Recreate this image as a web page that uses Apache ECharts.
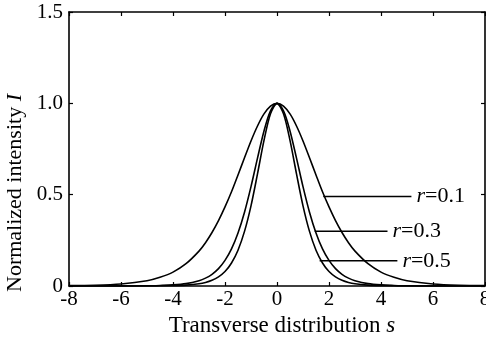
<!DOCTYPE html>
<html>
<head>
<meta charset="utf-8">
<script src="https://cdn.jsdelivr.net/npm/echarts@6/dist/echarts.min.js"></script>
<style>html,body{margin:0;padding:0;background:#fff}#c{width:486px;height:338px}</style>
</head>
<body>
<div id="c"></div>
<script>
// transverse coordinate s
const sValues = [-8,-7,-6,-5,-4.5,-4,-3.5,-3,-2.75,-2.5,-2.25,-2,-1.75,-1.5,-1.25,-1,-0.75,-0.5,-0.25,0,
                 0.25,0.5,0.75,1,1.25,1.5,1.75,2,2.25,2.5,2.75,3,3.5,4,4.5,5,6,7,8];
// normalized intensity
const intensityR01 = [0.002,0.004,0.011,0.029,0.048,0.076,0.122,0.191,0.237,0.293,0.358,0.433,0.516,0.608,0.702,0.794,0.876,0.942,0.985,1.0,
                      0.985,0.942,0.876,0.794,0.702,0.608,0.516,0.433,0.358,0.293,0.237,0.191,0.122,0.076,0.048,0.029,0.011,0.004,0.002];
const intensityR03 = [0,0,0,0.001,0.003,0.006,0.013,0.029,0.043,0.064,0.095,0.140,0.203,0.290,0.404,0.544,0.700,0.849,0.959,1.0,
                      0.959,0.849,0.700,0.544,0.404,0.290,0.203,0.140,0.095,0.064,0.043,0.029,0.013,0.006,0.003,0.001,0,0,0];
const intensityR05 = [0,0,0,0,0.001,0.002,0.005,0.012,0.019,0.031,0.050,0.079,0.126,0.196,0.299,0.439,0.614,0.797,0.943,1.0,
                      0.943,0.797,0.614,0.439,0.299,0.196,0.126,0.079,0.050,0.031,0.019,0.012,0.005,0.002,0.001,0,0,0,0];
// leader lines for the labels: [s, intensity] start and end
const labelNames = ['0.1','0.3','0.5'];
const leaderR01 = [[1.78,0.49],[5.17,0.49]];
const leaderR03 = [[1.45,0.30],[4.25,0.30]];
const leaderR05 = [[1.64,0.138],[4.63,0.138]];
const xTicks = [-8,-6,-4,-2,0,2,4,6,8];
const yTicks = ['0','0.5','1.0','1.5'];

const zip = (xs, ys) => xs.map((x, i) => [x, ys[i]]);
const FONT = 'Liberation Serif';
const curveStyle = {color:'#000', width:1.6};

function curve(name, ys) {
  return {name, type:'line', data: zip(sValues, ys), smooth:0.3, showSymbol:false,
    lineStyle: curveStyle, itemStyle:{color:'#000'}, silent:true, z:3};
}
function leader(pts, label) {
  return {type:'line', data: pts, showSymbol:false, symbol:'none', silent:true,
    lineStyle:{color:'#000', width:1.6},
    endLabel:{show:true, distance:5, fontFamily:FONT, fontSize:22, color:'#000',
      formatter:'{i|r}=' + label,
      rich:{i:{fontStyle:'italic', fontFamily:FONT, fontSize:22, color:'#000'}}}};
}

const chart = echarts.init(document.getElementById('c'), null, {renderer:'canvas'});
const axisLine = {show:true, onZero:false, lineStyle:{color:'#000', width:1.6}};
const tick = {show:true, inside:true, length:4, lineStyle:{color:'#000', width:1.2}};
chart.setOption({
  animation:false,
  backgroundColor:'#fff',
  grid:{left:69, right:1, top:12, bottom:52, containLabel:false, outerBoundsMode:'none'},
  xAxis:[{
    type:'value', min:-8, max:8, interval:2, position:'bottom',
    axisLine, axisTick:tick,
    splitLine:{show:false},
    axisLabel:{color:'#000', fontFamily:FONT, fontSize:21, margin:3,
      formatter:v => String(xTicks[xTicks.indexOf(v)])},
    name:'Transverse distribution {i|s}', nameLocation:'middle', nameGap:25,
    nameTextStyle:{color:'#000', fontFamily:FONT, fontSize:23, padding:[0,0,0,10],
      rich:{i:{fontStyle:'italic', fontFamily:FONT, fontSize:23, color:'#000'}}}
  },{
    type:'value', min:-8, max:8, interval:2, position:'top',
    axisLine, axisTick:tick,
    axisLabel:{show:false}, splitLine:{show:false}
  }],
  yAxis:[{
    type:'value', min:0, max:1.5, interval:0.5, position:'left',
    axisLine, axisTick:tick,
    splitLine:{show:false},
    axisLabel:{color:'#000', fontFamily:FONT, fontSize:21, margin:6,
      formatter:v => yTicks[Math.round(v/0.5)]},
    name:'Normalized intensity {i|I}', nameLocation:'middle', nameGap:41,
    nameTextStyle:{color:'#000', fontFamily:FONT, fontSize:22, padding:[0,88,0,0],
      rich:{i:{fontStyle:'italic', fontFamily:FONT, fontSize:22, color:'#000'}}}
  },{
    type:'value', min:0, max:1.5, interval:0.5, position:'right',
    axisLine, axisTick:tick,
    axisLabel:{show:false}, splitLine:{show:false}
  }],
  series:[
    curve('r=0.1', intensityR01),
    curve('r=0.3', intensityR03),
    curve('r=0.5', intensityR05),
    leader(leaderR01, labelNames[0]),
    leader(leaderR03, labelNames[1]),
    leader(leaderR05, labelNames[2])
  ]
});
</script>
</body>
</html>
